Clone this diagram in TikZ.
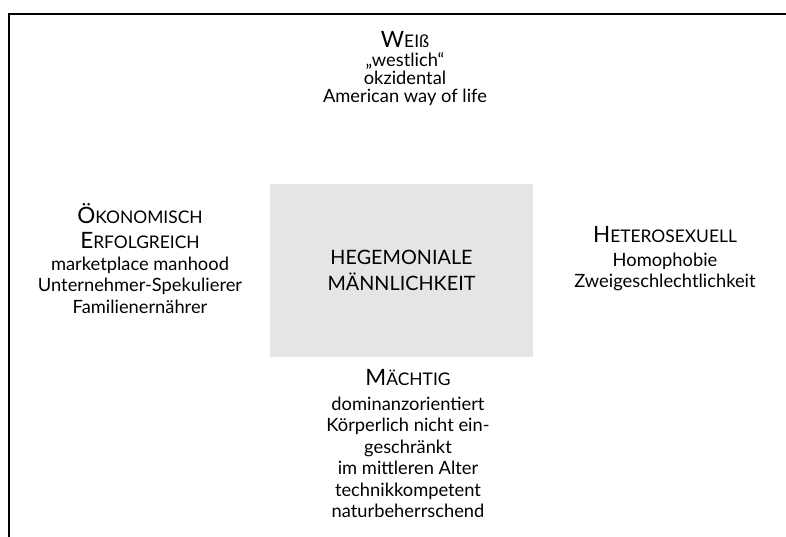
\documentclass[tikz,border=0pt]{standalone}
\usepackage{fontspec}
\setmainfont{Lato}
\usetikzlibrary{positioning}
\newcommand{\kap}[2]{{\fontsize{22.5}{20}\selectfont #1}{\fontsize{17.4}{20}\selectfont #2}}

\begin{document}
\begin{tikzpicture}[x=1pt, y=-1pt,
txt/.style={align=center, inner sep=0pt, anchor=north, font=\fontsize{18.3}{21.5}\selectfont},
core/.style={fill=black!10, minimum width=263pt, minimum height=173pt, inner sep=0pt, align=center, font=\fontsize{19.8}{26}\selectfont},
frame/.style={line width=2.2pt, line cap=rect}]

\useasboundingbox (0,0) rectangle (786,536);

\node[core] (hm) at (401.5,270.5) {HEGEMONIALE\\MÄNNLICHKEIT};

\node[txt] (weiss) at (405,31.5) {\kap{W}{EIß}\\[-3pt] „westlich“\\[-3.5pt] okzidental\\[-3.5pt] American way of life};
\node[txt] (oeko)  at (140,203) {\kap{Ö}{KONOMISCH}\\[3.5pt] \kap{E}{RFOLGREICH}\\[0.5pt] marketplace manhood\\ Unternehmer-Spekulierer\\ Familienernährer};
\node[txt] (hetero) at (665,226) {\kap{H}{ETEROSEXUELL}\\[2.5pt] Homophobie\\ Zweigeschlechtlichkeit};
\node[txt] (macht) at (408,369.5) {\kap{M}{ÄCHTIG}\\[3pt] dominanzorientiert\\ Körperlich nicht ein-\\ geschränkt\\ im mittleren Alter\\ technikkompetent\\ naturbeherrschend};

\coordinate (c1) at (786,14);
\coordinate (c2) at (9,14);
\coordinate (c3) at (9,536);
\draw[frame] (c1) -- (c2) -- (c3);

\end{tikzpicture}
\end{document}
